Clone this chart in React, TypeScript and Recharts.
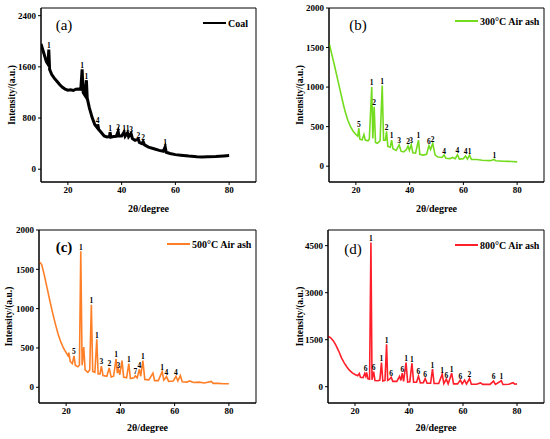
import React from 'react';
import { LineChart, Line, XAxis, YAxis, ReferenceArea, ReferenceDot } from 'recharts';

const FONT = '"Liberation Serif", "Times New Roman", serif';

// ---------- (a) Coal ----------
const coalTheta = [10, 11, 12, 12.6, 12.9, 13.2, 14, 15, 16, 17, 18, 19, 20, 21, 22, 23, 24, 24.8, 25.3, 25.7, 26.3, 26.9, 27.2, 28, 29, 30, 30.9, 31.1, 31.5, 32.5, 33.5, 34.5, 35.5, 35.7, 36, 37, 38, 38.7, 39, 40, 40.9, 41.3, 42.2, 42.6, 43.5, 44, 45, 46.2, 46.6, 47.5, 48, 48.5, 50, 52, 54, 55.5, 56.2, 56.6, 58, 60, 62, 65, 68, 70, 72, 75, 78, 80];
const coalIntensity = [1960, 1820, 1680, 1640, 1870, 1560, 1480, 1420, 1370, 1320, 1280, 1250, 1235, 1240, 1230, 1250, 1255, 1250, 1560, 1200, 1160, 1390, 1110, 960, 810, 700, 650, 700, 620, 570, 520, 505, 510, 580, 500, 510, 515, 590, 520, 520, 580, 515, 570, 510, 560, 480, 450, 470, 420, 400, 430, 380, 345, 320, 295, 280, 350, 265, 245, 228, 218, 205, 195, 192, 195, 200, 208, 215];
const coalPeakTheta = [12.9, 25.3, 26.9, 31.1, 35.7, 38.7, 40.9, 42.2, 43.5, 46.2, 48, 56.2];
const coalPeakIntensity = [1870, 1560, 1390, 700, 580, 590, 580, 570, 560, 470, 430, 350];
const coalPeakLabels = ['1', '1', '1', '4', '1', '2', '1', '1', '3', '2', '2', '1'];

// ---------- (b) 300°C ----------
const ash300Theta = [10, 11, 12, 13, 14, 15, 16, 17, 18, 19, 20, 20.7, 21.1, 21.5, 22.3, 23, 23.5, 24.5, 25, 25.9, 26.3, 26.8, 27.3, 28, 29, 29.8, 30.3, 31, 31.4, 31.9, 32.8, 33.3, 33.8, 35, 36.1, 36.8, 37.8, 38.8, 39.4, 39.9, 40.6, 41.2, 42.2, 43.3, 43.8, 45, 46.3, 47.2, 47.8, 48.6, 49.5, 50.5, 52, 52.8, 53.5, 55, 56, 57, 57.8, 58.5, 60, 60.8, 61.5, 62.3, 63, 65, 67, 70, 71.5, 72, 75, 78, 80];
const ash300Intensity = [1560, 1420, 1280, 1130, 980, 830, 690, 580, 500, 440, 400, 380, 480, 340, 330, 400, 330, 320, 340, 1000, 350, 750, 300, 290, 320, 1020, 330, 330, 440, 250, 240, 330, 220, 200, 270, 190, 180, 210, 255, 200, 270, 170, 165, 330, 150, 140, 150, 260, 210, 290, 140, 115, 110, 140, 100, 95, 110, 95, 145, 90, 95, 130, 90, 140, 85, 85, 75, 70, 85, 68, 63, 60, 55];
const ash300PeakTheta = [21.1, 25.9, 26.8, 29.8, 31.4, 33.3, 36.1, 39.4, 40.6, 43.3, 47.2, 48.6, 52.8, 57.8, 60.8, 62.3, 71.5];
const ash300PeakIntensity = [480, 1000, 750, 1020, 440, 330, 270, 255, 270, 330, 260, 290, 140, 145, 130, 140, 85];
const ash300PeakLabels = ['5', '1', '2', '1', '2', '1', '3', '2', '3', '1', '6', '2', '4', '4', '4', '1', '1'];

// ---------- (c) 500°C ----------
const ash500Theta = [10, 10.5, 11, 12, 13, 14, 15, 16, 17, 18, 19, 20, 20.7, 21, 21.5, 22.3, 22.9, 23.4, 24.3, 24.9, 25.4, 25.9, 26.5, 27, 28, 28.7, 29.3, 29.8, 30.6, 31.3, 31.8, 32.5, 33, 33.6, 35, 35.9, 36.6, 37.5, 38.4, 38.9, 39.3, 39.8, 40.6, 41.2, 42.3, 43.1, 43.7, 45, 45.5, 46.2, 47, 47.5, 48.3, 49, 50.5, 52, 52.6, 54, 55.4, 56, 57, 57.8, 59.5, 60.5, 61.2, 62.1, 62.8, 64.5, 65.5, 67, 69, 71, 73.5, 74.2, 76, 78, 80];
const ash500Intensity = [1600, 1580, 1560, 1420, 1260, 1100, 950, 810, 680, 580, 500, 440, 400, 440, 330, 300, 400, 280, 260, 280, 1730, 280, 510, 220, 190, 220, 1050, 200, 190, 610, 170, 170, 270, 150, 140, 245, 130, 140, 360, 180, 230, 160, 340, 130, 120, 300, 110, 120, 145, 120, 230, 140, 340, 100, 95, 180, 85, 85, 200, 90, 135, 75, 80, 140, 80, 150, 70, 65, 80, 60, 65, 55, 75, 50, 50, 45, 45];
const ash500PeakTheta = [22.9, 25.4, 29.3, 31.3, 33, 35.9, 38.4, 39.3, 43.1, 45.5, 47, 48.3, 55.4, 57, 60.5];
const ash500PeakIntensity = [400, 1730, 1050, 610, 270, 245, 360, 230, 300, 145, 230, 340, 200, 135, 140];
const ash500PeakLabels = ['5', '1', '1', '1', '3', '2', '1', '3', '1', '7', '4', '1', '1', '4', '4'];

// ---------- (d) 800°C ----------
const ash800Theta = [10, 11, 12, 13, 14, 15, 16, 17, 18, 19, 20, 21, 21.6, 22, 23, 23.6, 24, 24.3, 24.8, 25.4, 25.9, 26.3, 26.9, 27.4, 28.5, 29.2, 29.8, 30.3, 31.1, 31.7, 32.1, 32.7, 33.4, 34, 35.5, 36.5, 37, 37.5, 38, 38.9, 39.5, 40.3, 41.1, 41.7, 42.8, 43.5, 44.2, 45.3, 46, 46.7, 48, 48.7, 49.3, 51, 52.3, 52.9, 53.8, 54.5, 55.8, 56.5, 58, 59, 59.7, 60.6, 61.3, 62.4, 63.1, 65, 66.5, 67.3, 70, 71.3, 72, 74.2, 74.8, 77, 78.5, 79.2, 80];
const ash800Intensity = [1610, 1560, 1460, 1310, 1130, 920, 760, 630, 520, 440, 390, 350, 420, 300, 290, 420, 330, 460, 250, 240, 4600, 220, 480, 200, 190, 210, 770, 180, 200, 1350, 200, 230, 300, 170, 170, 330, 200, 430, 170, 770, 150, 160, 750, 140, 140, 340, 120, 130, 260, 110, 110, 560, 100, 100, 400, 100, 240, 90, 430, 90, 90, 210, 90, 210, 85, 260, 80, 80, 120, 75, 75, 180, 75, 190, 70, 80, 130, 80, 90];
const ash800PeakTheta = [23.9, 25.9, 26.9, 29.8, 31.7, 33.4, 37.5, 38.9, 41.1, 43.5, 46, 48.7, 52.3, 53.8, 55.8, 59, 62.4, 71.3, 74.2];
const ash800PeakIntensity = [460, 4600, 480, 770, 1350, 300, 430, 770, 750, 340, 260, 560, 400, 240, 430, 210, 260, 180, 190];
const ash800PeakLabels = ['6', '1', '6', '1', '1', '6', '6', '1', '1', '6', '6', '1', '1', '6', '1', '6', '2', '6', '1'];

const xTicks = [20, 40, 60, 80];
const coalYTicks = [0, 800, 1600, 2400];
const ash300YTicks = [0, 500, 1000, 1500, 2000];
const ash500YTicks = [0, 500, 1000, 1500, 2000];
const ash800YTicks = [0, 1500, 3000, 4500];

const toRows = (xs: number[], ys: number[]) => xs.map((x, i) => ({ x, y: ys[i] }));

type PanelProps = {
  left: number; top: number; width: number; height: number;
  margin: { top: number; right: number; bottom: number; left: number };
  yWidth: number; xHeight: number;
  theta: number[]; intensity: number[];
  peakTheta: number[]; peakIntensity: number[]; peakLabels: string[];
  yDomain: [number, number]; yTicks: number[];
  color: string; strokeWidth: number;
  letter: string; letterX: number; letterY: number; letterBold?: boolean;
  legend: string; legendX: number; legendY: number;
  yLabelX: number;
};

const tickStyle = { fontSize: 9, fontWeight: 'bold', fill: '#000', fontFamily: FONT };

const makePeakLabel = (text: string) => (lp: any) => {
  const vb = lp.viewBox || {};
  const cx = (vb.x ?? 0) + (vb.width ?? 0) / 2;
  const cy = vb.y ?? 0;
  return (
    <text x={cx} y={cy - 1.5} textAnchor="middle" fontSize={7.5} fontWeight="bold" fontFamily={FONT} fill="#000" style={{ fontFamily: FONT }}>
      {text}
    </text>
  );
};

function Panel(p: PanelProps) {
  const data = toRows(p.theta, p.intensity);
  return (
    <div style={{ position: 'absolute', left: p.left, top: p.top, width: p.width, height: p.height }}>
      <LineChart width={p.width} height={p.height} data={data} margin={p.margin} style={{ fontFamily: FONT }}>
        <XAxis
          type="number"
          dataKey="x"
          domain={[10, 90]}
          ticks={xTicks}
          allowDataOverflow
          height={p.xHeight}
          tickSize={3}
          tickMargin={2}
          tick={tickStyle}
          axisLine={{ stroke: '#000' }}
          tickLine={{ stroke: '#000' }}
          label={{ value: '2θ/degree', position: 'insideBottom', offset: 2, fontSize: 10, fontWeight: 'bold', fill: '#000', fontFamily: FONT }}
        />
        <YAxis
          type="number"
          domain={p.yDomain}
          ticks={p.yTicks}
          allowDataOverflow
          width={p.yWidth}
          tickSize={3}
          tickMargin={2}
          tick={tickStyle}
          axisLine={{ stroke: '#000' }}
          tickLine={{ stroke: '#000' }}
          label={{ value: 'Intensity/(a.u.)', angle: -90, position: 'insideLeft', offset: p.yLabelX, fontSize: 9.5, fontWeight: 'bold', fill: '#000', fontFamily: FONT, style: { textAnchor: 'middle' } }}
        />
        <ReferenceArea x1={10} x2={90} y1={p.yDomain[0]} y2={p.yDomain[1]} fill="none" stroke="#000" strokeWidth={1} ifOverflow="visible" />
        <Line type="linear" dataKey="y" stroke={p.color} strokeWidth={p.strokeWidth} dot={false} isAnimationActive={false} />
        {p.peakTheta.map((t, i) => (
          <ReferenceDot
            key={i}
            x={t}
            y={p.peakIntensity[i]}
            r={0.1}
            fill="none"
            stroke="none"
            ifOverflow="visible"
            label={{ content: makePeakLabel(p.peakLabels[i]) }}
          />
        ))}
        <text x={p.letterX} y={p.letterY} textAnchor="middle" fontSize={15} fontWeight={p.letterBold ? 'bold' : 'normal'} fontFamily={FONT} fill="#000">{p.letter}</text>
        <line x1={p.legendX} x2={p.legendX + 23} y1={p.legendY} y2={p.legendY} stroke={p.color} strokeWidth={2} />
        <text x={p.legendX + 25} y={p.legendY + 3.5} fontSize={10} fontWeight="bold" fontFamily={FONT} fill="#000">{p.legend}</text>
      </LineChart>
    </div>
  );
}

export default function App() {
  return (
    <div style={{ position: 'absolute', left: 0, top: 0, width: 550, height: 439, background: '#fff', fontFamily: FONT }}>
      <Panel
        left={0} top={0} width={275} height={220}
        margin={{ top: 8, right: 19, bottom: 6, left: 0 }} yWidth={41} xHeight={32}
        theta={coalTheta} intensity={coalIntensity}
        peakTheta={coalPeakTheta} peakIntensity={coalPeakIntensity} peakLabels={coalPeakLabels}
        yDomain={[-200, 2520]} yTicks={coalYTicks}
        color="#000000" strokeWidth={3}
        letter="(a)" letterX={64} letterY={30}
        legend="Coal" legendX={203} legendY={23}
        yLabelX={12}
      />
      <Panel
        left={275} top={0} width={275} height={220}
        margin={{ top: 8, right: 6, bottom: 6, left: 0 }} yWidth={54} xHeight={32}
        theta={ash300Theta} intensity={ash300Intensity}
        peakTheta={ash300PeakTheta} peakIntensity={ash300PeakIntensity} peakLabels={ash300PeakLabels}
        yDomain={[-200, 2000]} yTicks={ash300YTicks}
        color="#74dc1e" strokeWidth={1.6}
        letter="(b)" letterX={83} letterY={30}
        legend="300°C Air ash" legendX={180} legendY={21}
        yLabelX={25}
      />
      <Panel
        left={0} top={220} width={275} height={219}
        margin={{ top: 10, right: 19, bottom: 6, left: 0 }} yWidth={39} xHeight={30}
        theta={ash500Theta} intensity={ash500Intensity}
        peakTheta={ash500PeakTheta} peakIntensity={ash500PeakIntensity} peakLabels={ash500PeakLabels}
        yDomain={[-200, 2000]} yTicks={ash500YTicks}
        color="#ff7f27" strokeWidth={1.6}
        letter="(c)" letterX={64} letterY={32} letterBold
        legend="500°C Air ash" legendX={167} legendY={24}
        yLabelX={9}
      />
      <Panel
        left={275} top={220} width={275} height={219}
        margin={{ top: 10, right: 6, bottom: 6, left: 0 }} yWidth={53} xHeight={30}
        theta={ash800Theta} intensity={ash800Intensity}
        peakTheta={ash800PeakTheta} peakIntensity={ash800PeakIntensity} peakLabels={ash800PeakLabels}
        yDomain={[-520, 5000]} yTicks={ash800YTicks}
        color="#ff1f2a" strokeWidth={1.6}
        letter="(d)" letterX={78} letterY={34}
        legend="800°C Air ash" legendX={180} legendY={25}
        yLabelX={25}
      />
    </div>
  );
}
